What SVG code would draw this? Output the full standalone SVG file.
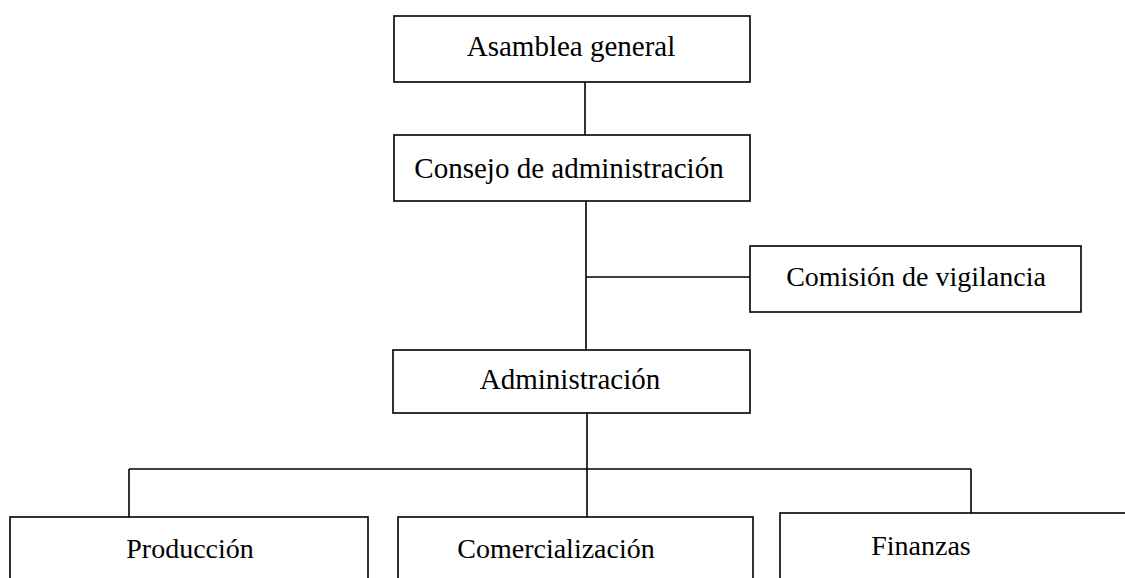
<svg xmlns="http://www.w3.org/2000/svg" width="1125" height="578" viewBox="0 0 1125 578">
<style>
.box{fill:#fff;stroke:#000;stroke-width:1.6}
.t{font-family:"Liberation Serif","Times New Roman",serif;font-size:28px;fill:#000;text-anchor:middle}
.l{font-size:29px}
.c{stroke:#000;stroke-width:1.6;fill:none}
</style>
<rect width="1125" height="578" fill="#fff"/>
<g id="connectors">
<line class="c" x1="585" y1="82" x2="585" y2="135"/>
<line class="c" x1="586" y1="201" x2="586" y2="350"/>
<line class="c" x1="586" y1="277" x2="750" y2="277"/>
<line class="c" x1="587" y1="413" x2="587" y2="517"/>
<line class="c" x1="129" y1="469" x2="971" y2="469"/>
<line class="c" x1="129" y1="469" x2="129" y2="517"/>
<line class="c" x1="971" y1="469" x2="971" y2="513"/>
</g>
<g id="asamblea"><rect class="box" x="394" y="16" width="356" height="66"/><text class="t l" x="571" y="56">Asamblea general</text></g>
<g id="consejo"><rect class="box" x="394" y="135" width="356" height="66"/><text class="t l" x="569" y="178">Consejo de administración</text></g>
<g id="comision"><rect class="box" x="750" y="246" width="331" height="66"/><text class="t" x="916" y="286">Comisión de vigilancia</text></g>
<g id="administracion"><rect class="box" x="393" y="350" width="357" height="63"/><text class="t l" x="570" y="389">Administración</text></g>
<g id="produccion"><rect class="box" x="10" y="517" width="358" height="80"/><text class="t" x="190" y="558">Producción</text></g>
<g id="comercializacion"><rect class="box" x="398" y="517" width="355" height="80"/><text class="t" x="556" y="558">Comercialización</text></g>
<g id="finanzas"><rect class="box" x="780" y="513" width="360" height="80"/><text class="t" x="921" y="555">Finanzas</text></g>
</svg>
